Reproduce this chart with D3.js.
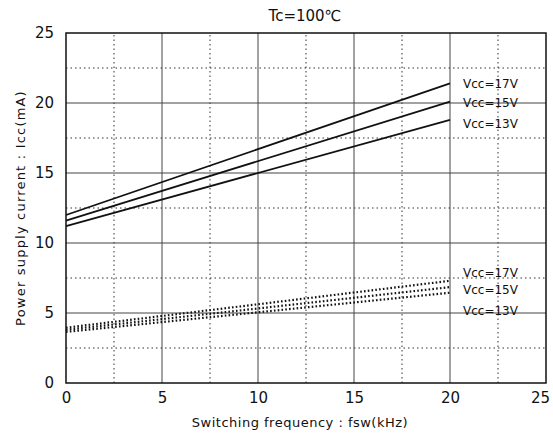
<!DOCTYPE html>
<html>
<head>
<meta charset="utf-8">
<script src="https://cdn.jsdelivr.net/npm/d3@7"></script>
<style>
  body { margin: 0; background: #fff; }
  text { font-family: "DejaVu Sans", sans-serif; fill: #111; }
</style>
</head>
<body>
<svg width="553" height="436"></svg>
<script>
var svg = d3.select('svg');

// data
var freq = [0, 20];
var vccLabels = ['Vcc=17V', 'Vcc=15V', 'Vcc=13V'];
var solidValues = [[12.0, 21.4], [11.6, 20.1], [11.2, 18.8]];
var dottedValues = [[3.95, 7.3], [3.8, 6.85], [3.65, 6.45]];
var solidLabelY = [21.4, 20.1, 18.6];
var dottedLabelY = [7.9, 6.7, 5.2];
var xTicks = [0, 5, 10, 15, 20, 25];
var yTicks = [0, 5, 10, 15, 20, 25];

var x = d3.scaleLinear().domain([0, 25]).range([66, 546]);
var y = d3.scaleLinear().domain([0, 25]).range([383, 33]);

// grid
var minor = d3.range(2.5, 25, 5);
svg.append('g').selectAll('line.vmin').data(minor).enter().append('line')
    .attr('x1', d => x(d)).attr('x2', d => x(d))
    .attr('y1', y(0)).attr('y2', y(25))
    .attr('stroke', '#333').attr('stroke-width', 1).attr('stroke-dasharray', '1.5,3');
svg.append('g').selectAll('line.hmin').data(minor).enter().append('line')
    .attr('y1', d => y(d)).attr('y2', d => y(d))
    .attr('x1', x(0)).attr('x2', x(25))
    .attr('stroke', '#333').attr('stroke-width', 1).attr('stroke-dasharray', '1.5,3');
svg.append('g').selectAll('line.vmaj').data([5, 10, 15, 20]).enter().append('line')
    .attr('x1', d => x(d)).attr('x2', d => x(d))
    .attr('y1', y(0)).attr('y2', y(25))
    .attr('stroke', '#444').attr('stroke-width', 1);
svg.append('g').selectAll('line.hmaj').data([5, 10, 15, 20]).enter().append('line')
    .attr('y1', d => y(d)).attr('y2', d => y(d))
    .attr('x1', x(0)).attr('x2', x(25))
    .attr('stroke', '#444').attr('stroke-width', 1);

// frame
svg.append('rect')
    .attr('x', x(0)).attr('y', y(25))
    .attr('width', x(25) - x(0)).attr('height', y(0) - y(25))
    .attr('fill', 'none').attr('stroke', '#111').attr('stroke-width', 1.5);

// axes
var xAxis = svg.append('g').attr('transform', 'translate(0,' + y(0) + ')')
    .call(d3.axisBottom(x).tickValues(xTicks).tickSize(0).tickPadding(9));
var yAxis = svg.append('g').attr('transform', 'translate(' + x(0) + ',0)')
    .call(d3.axisLeft(y).tickValues(yTicks).tickSize(0).tickPadding(12));
[xAxis, yAxis].forEach(function(a) {
    a.select('.domain').remove();
    a.selectAll('text').style('font-size', '15px').attr('fill', '#111');
});
// last x label sits at the page edge
xAxis.selectAll('text').filter(d => d === 25).attr('dx', '-6');

var line = d3.line().x((d, i) => x(freq[i])).y(d => y(d));

svg.append('g').selectAll('path').data(solidValues).enter().append('path')
    .attr('d', line).attr('fill', 'none')
    .attr('stroke', '#111').attr('stroke-width', 1.8);

svg.append('g').selectAll('path').data(dottedValues).enter().append('path')
    .attr('d', line).attr('fill', 'none')
    .attr('stroke', '#111').attr('stroke-width', 2.2).attr('stroke-dasharray', '1.6,2.2');

// labels
svg.append('g').selectAll('text').data(vccLabels).enter().append('text')
    .attr('x', x(20) + 13).attr('y', (d, i) => y(solidLabelY[i]) + 5)
    .style('font-size', '12px').text(d => d);
svg.append('g').selectAll('text').data(vccLabels).enter().append('text')
    .attr('x', x(20) + 13).attr('y', (d, i) => y(dottedLabelY[i]) + 5)
    .style('font-size', '12px').text(d => d);

// titles
svg.append('text').attr('x', 305).attr('y', 21).attr('text-anchor', 'middle')
    .style('font-size', '15px').text('Tc=100\u2103');
svg.append('text').attr('x', 300).attr('y', 427).attr('text-anchor', 'middle')
    .style('font-size', '13px').style('letter-spacing', '0.5px')
    .text('Switching frequency : fsw(kHz)');
svg.append('text').attr('transform', 'translate(25,208) rotate(-90)')
    .attr('text-anchor', 'middle')
    .style('font-size', '13px').style('letter-spacing', '1.2px')
    .text('Power supply current : Icc(mA)');
</script>
</body>
</html>
